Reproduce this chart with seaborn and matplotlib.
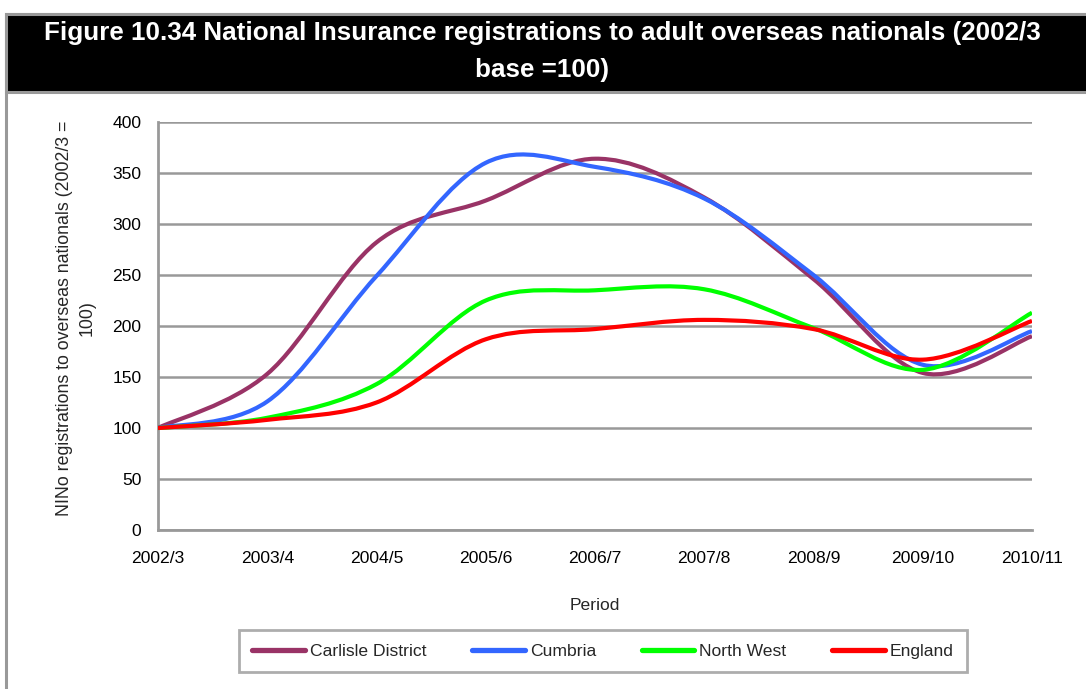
import matplotlib
matplotlib.use("Agg")
import matplotlib.pyplot as plt
import matplotlib.font_manager as fm
from matplotlib.path import Path
from matplotlib.patches import PathPatch, Rectangle
import seaborn as sns
import pandas as pd
import numpy as np

# ---------------- data ----------------
periods = ["2002/3", "2003/4", "2004/5", "2005/6", "2006/7",
           "2007/8", "2008/9", "2009/10", "2010/11"]
carlisle = [100, 153, 282, 323, 364, 326, 246, 154, 190]
cumbria = [100, 126, 249, 360, 356, 325, 250, 162, 195]
north_west = [100, 110, 143, 225, 235, 236, 198, 157, 213]
england = [100, 108, 125, 187, 197, 206, 197, 167, 205]
series_names = ["Carlisle District", "Cumbria", "North West", "England"]
series_values = [carlisle, cumbria, north_west, england]
colors = ["#993366", "#3366FF", "#00FF00", "#FF0000"]
yticks = [0, 50, 100, 150, 200, 250, 300, 350, 400]

title_line1 = "Figure 10.34 National Insurance registrations to adult overseas nationals (2002/3"
title_line2 = "base =100)"
ylabel = "NINo registrations to overseas nationals (2002/3 =\n100)"
xlabel = "Period"

# ---------------- fonts ----------------
sns.set_style("white")
names = {f.name for f in fm.fontManager.ttflist}
if "Liberation Sans Narrow" in names:
    body_family = ["Liberation Sans Narrow", "Liberation Sans", "DejaVu Sans"]
    body_size = 15.0
else:
    body_family = ["Liberation Sans", "DejaVu Sans"]
    body_size = 12.6
plt.rcParams["font.family"] = body_family
title_family = ["Liberation Sans", "DejaVu Sans"]

W, H = 1086, 689
fig = plt.figure(figsize=(W / 100, H / 100), dpi=100)

def fx(px):
    return px / W

def fy(py):
    return 1 - py / H

# frame and title bar
fig.patches.append(Rectangle((fx(6), fy(H + 20)), fx(1200), fy(14) - fy(H + 20),
                             transform=fig.transFigure, fill=False,
                             edgecolor="#999999", lw=2.2, clip_on=False))
fig.patches.append(Rectangle((fx(6), fy(92)), fx(1200), fy(14) - fy(92),
                             transform=fig.transFigure, facecolor="black",
                             edgecolor="#999999", lw=2.2, clip_on=False))
fig.text(fx(542), fy(33), title_line1, color="white", fontsize=18.7,
         fontweight="bold", family=title_family, ha="center", va="center")
fig.text(fx(542), fy(70), title_line2, color="white", fontsize=18.7,
         fontweight="bold", family=title_family, ha="center", va="center")

ax = fig.add_axes([fx(158), fy(530), fx(1032) - fx(158), fy(122) - fy(530)])

pos = list(range(len(periods)))
df = pd.DataFrame({
    "pos": pos * len(series_names),
    "value": sum(series_values, []),
    "series": sum([[n] * len(periods) for n in series_names], []),
})
sns.lineplot(data=df, x="pos", y="value", hue="series",
             hue_order=series_names, palette=colors, linewidth=3.0,
             ax=ax, legend=True)
# keep seaborn's legend handles, but show smoothed curves instead of straight segments
for ln in list(ax.lines):
    ln.set_visible(False)


def smooth_path(xs, ys):
    pts = np.column_stack([xs, ys]).astype(float)
    n = len(pts)
    verts = [pts[0]]
    codes = [Path.MOVETO]
    for i in range(n - 1):
        p0 = pts[i - 1] if i > 0 else pts[i]
        p1 = pts[i]
        p2 = pts[i + 1]
        p3 = pts[i + 2] if i + 2 < n else pts[i + 1]
        c1 = p1 + (p2 - p0) / 6.0
        c2 = p2 - (p3 - p1) / 6.0
        verts += [c1, c2, p2]
        codes += [Path.CURVE4] * 3
    return Path(verts, codes)


for name, vals, col in zip(series_names, series_values, colors):
    ax.add_patch(PathPatch(smooth_path(pos, vals), fill=False, edgecolor=col,
                           lw=3.0, capstyle="butt", joinstyle="round", zorder=3))

ax.set_xlim(0, len(periods) - 1)
ax.set_ylim(0, 400)
ax.set_xticks(pos)
ax.set_xticklabels(periods)
ax.set_yticks(yticks)
ax.set_yticklabels([str(t) for t in yticks])
ax.yaxis.grid(True, color="#999999", lw=1.8)
ax.xaxis.grid(False)
ax.set_axisbelow(True)
for s in ["top", "right"]:
    ax.spines[s].set_visible(False)
for s in ["left", "bottom"]:
    ax.spines[s].set_color("#999999")
    ax.spines[s].set_linewidth(2)
ax.tick_params(axis="both", direction="out", length=6, width=2,
               color="#999999", labelsize=body_size, labelcolor="black")
ax.tick_params(axis="y", pad=6)
ax.tick_params(axis="x", pad=9)
ax.set_xlabel("")
ax.set_ylabel("")

fig.text(fx(595), fy(605), xlabel, fontsize=body_size, ha="center", va="center")
fig.text(fx(76), fy(318), ylabel, fontsize=12.8, rotation=90,
         ha="center", va="center", multialignment="center", linespacing=1.45)

sns.move_legend(ax, "center", bbox_to_anchor=(fx(603), fy(651)),
                bbox_transform=fig.transFigure, ncol=4, title=None,
                frameon=True, fontsize=body_size, handlelength=3.0,
                handletextpad=0.3, columnspacing=2.6, borderpad=0.75,
                fancybox=False, edgecolor="#999999")
leg = ax.get_legend()
leg.get_frame().set_linewidth(2)
for h in leg.legend_handles:
    h.set_linewidth(3.8)

fig.savefig("out.png", dpi=100)
